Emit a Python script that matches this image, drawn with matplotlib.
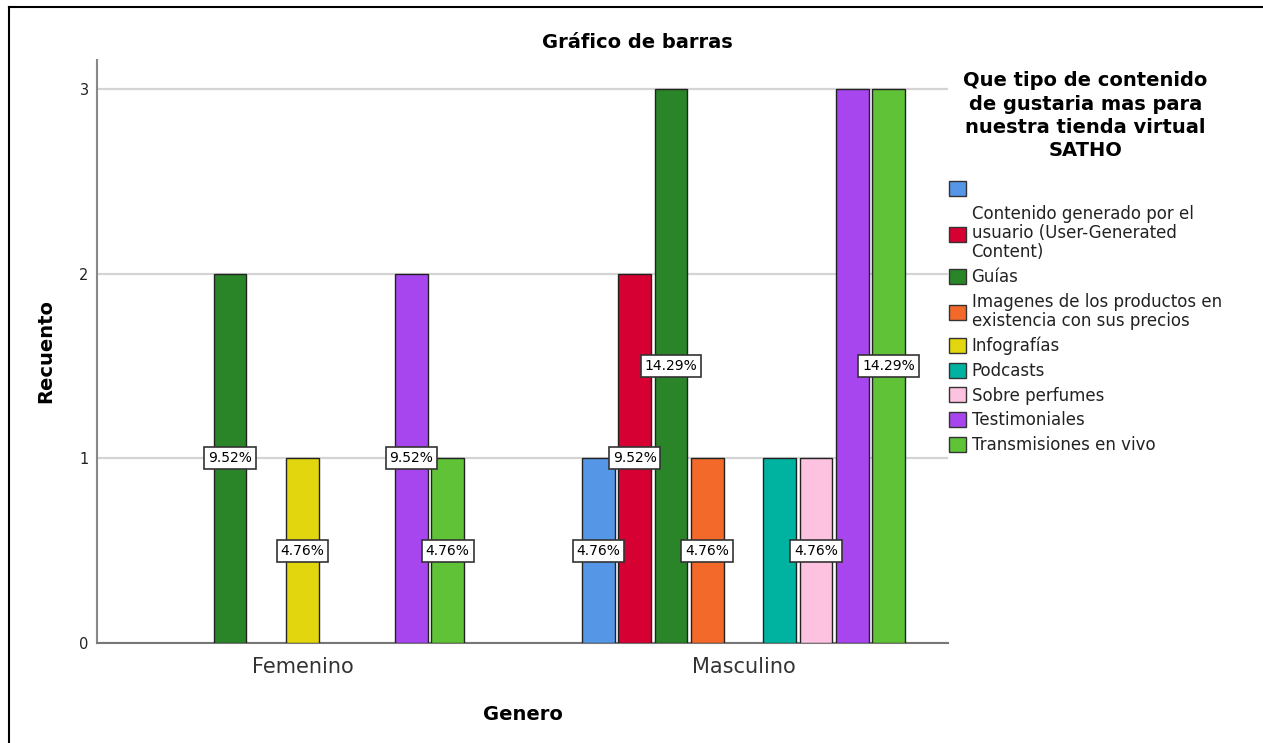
import matplotlib
matplotlib.use("Agg")
import matplotlib.pyplot as plt
from matplotlib.patches import Patch
from matplotlib.lines import Line2D

# data
generos = ["Femenino", "Masculino"]
categorias = [
    "",
    "Contenido generado por el\nusuario (User-Generated\nContent)",
    "Guías",
    "Imagenes de los productos en\nexistencia con sus precios",
    "Infografías",
    "Podcasts",
    "Sobre perfumes",
    "Testimoniales",
    "Transmisiones en vivo",
]
colores = ["#5596E6", "#D70032", "#2A8528", "#F2692A", "#E2D60F",
           "#00B3A0", "#FDC2E0", "#A746EE", "#5FC237"]
conteo_fem = [0, 0, 2, 0, 1, 0, 0, 2, 1]
conteo_mas = [1, 2, 3, 1, 0, 1, 1, 3, 3]
# percent labels as shown (SPSS hides some that overlap)
etiq_fem = ["", "", "9.52%", "", "4.76%", "", "", "9.52%", "4.76%"]
etiq_mas = ["4.76%", "9.52%", "14.29%", "4.76%", "", "", "4.76%", "", "14.29%"]

plt.rcParams['font.family'] = ['DejaVu Sans']

fig = plt.figure(figsize=(12.63, 7.43), dpi=100)
ax = fig.add_axes([97 / 1263, 1 - 643 / 743, (948 - 97) / 1263, (643 - 60) / 743])

paso = 0.0823
ancho = 0.074
n = len(categorias)
for g, (conteos, etiqs) in enumerate([(conteo_fem, etiq_fem), (conteo_mas, etiq_mas)]):
    for k in range(n):
        x = g + (k - (n - 1) / 2) * paso
        if conteos[k] > 0:
            ax.bar(x, conteos[k], width=ancho, color=colores[k],
                   edgecolor="#222222", linewidth=1.0, zorder=3)
        if etiqs[k]:
            ax.text(x, conteos[k] / 2, etiqs[k], ha="center", va="center",
                    fontsize=10, zorder=5,
                    bbox=dict(boxstyle="square,pad=0.28", fc="white",
                              ec="#333333", lw=1.2))

ax.set_xlim(-0.466, 1.4637)
ax.set_ylim(0, 3.157)
ax.set_yticks([0, 1, 2, 3])
ax.set_xticks([0, 1])
ax.set_xticklabels(generos, fontsize=15, color="#333333")
ax.tick_params(axis="x", length=0, pad=10)
ax.tick_params(axis="y", length=0, pad=6, labelsize=10.5, labelcolor="#222222")
ax.yaxis.grid(True, color="#d4d4d4", linewidth=1.6, zorder=0)
ax.set_axisbelow(True)
for s in ["top", "right"]:
    ax.spines[s].set_visible(False)
ax.spines["left"].set_color("#888888")
ax.spines["left"].set_linewidth(1.5)
ax.spines["bottom"].set_color("#777777")
ax.spines["bottom"].set_linewidth(1.5)

ax.set_ylabel("Recuento", fontsize=14, fontweight="bold", labelpad=17)
ax.set_xlabel("Genero", fontsize=14, fontweight="bold", labelpad=20)
fig.text(637 / 1263, 1 - 42 / 743, "Gráfico de barras", ha="center", va="center",
         fontsize=14, fontweight="bold")

handles = [Patch(facecolor=c, edgecolor="#333333", linewidth=1.0) for c in colores]
leg = fig.legend(handles, categorias, loc="upper left",
                 bbox_to_anchor=(944 / 1263, 1 - 66 / 743),
                 title="Que tipo de contenido\nde gustaria mas para\nnuestra tienda virtual\nSATHO",
                 title_fontproperties={"size": 14, "weight": "bold"},
                 fontsize=12, frameon=False, alignment="center",
                 handlelength=1.0, handleheight=1.0, handletextpad=0.35,
                 labelspacing=0.4, borderaxespad=0, borderpad=0.3)
for t in leg.get_texts():
    t.set_linespacing(1.1)
    t.set_color("#222222")
leg.get_title().set_linespacing(1.3)
leg.get_title().set_multialignment("center")
leg._legend_box.sep = 14  # extra gap between legend title and entries

# outer frame (top and left edges visible)
fig.add_artist(Line2D([9 / 1263, 1], [1 - 7 / 743, 1 - 7 / 743], color="black", lw=1.5))
fig.add_artist(Line2D([9 / 1263, 9 / 1263], [0, 1 - 7 / 743], color="black", lw=1.5))

fig.savefig("out.png", dpi=100)
